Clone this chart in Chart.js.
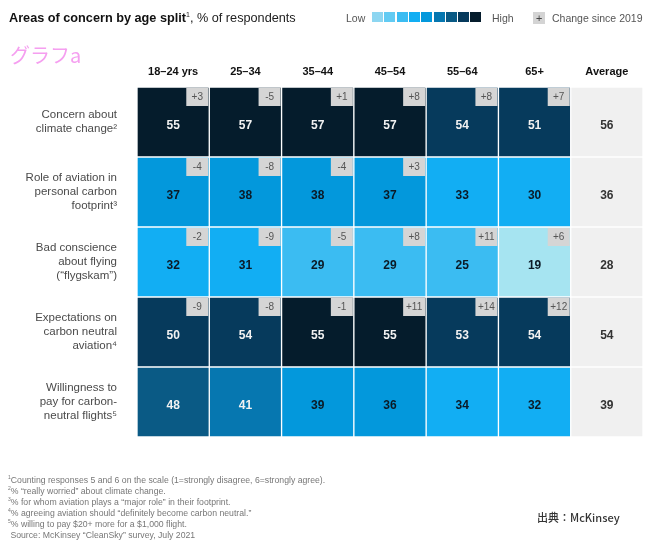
<!DOCTYPE html>
<html>
<head>
<meta charset="utf-8">
<script src="https://cdn.jsdelivr.net/npm/chart.js@4.4.1/dist/chart.umd.min.js"></script>
<style>
    body { margin: 0; background: #fff; font-family: "Liberation Sans", Arial, sans-serif; }
    #wrap { position: relative; width: 645px; height: 541px; overflow: hidden; }
    #heatmap { position: absolute; left: 0; top: 0; }
    .title { position: absolute; left: 9px; top: 11px; font-size: 12.7px; color: #222; white-space: nowrap; }
    .title b { color: #111; }
    .title sup { font-size: 7px; line-height: 0; }
    .legend { position: absolute; top: 12px; left: 346px; font-size: 10.5px; color: #555; white-space: nowrap; }
    .legend span, .legend i { position: absolute; top: 0; }
    .swatch { position: absolute; top: 2px; width: 11px; height: 10px; }
    .plusbox { position: absolute; left: 187px; top: 1px; width: 12px; height: 12px; background: #d4d4d4; color: #444; font-size: 11px; line-height: 12px; text-align: center; }
    .tag { position: absolute; left: 10px; top: 40px; font-family: "Noto Sans CJK JP", sans-serif; font-size: 20px; color: #f59ff0; }
    .notes { position: absolute; left: 8px; top: 475px; font-size: 8.7px; line-height: 11px; color: #777; white-space: nowrap; }
    .notes sup { font-size: 5px; line-height: 0; }
    .source { position: absolute; left: 537px; top: 509px; font-family: "Noto Sans CJK JP", sans-serif; font-size: 11px; color: #333; font-weight: 500; }
</style>
</head>
<body>
<div id="wrap">
    <canvas id="heatmap" width="645" height="541"></canvas>
    <div class="title"><b>Areas of concern by age split</b><sup>1</sup>, % of respondents</div>
    <div class="legend" id="legend"></div>
    <div class="tag">グラフa</div>
    <div class="notes">
        <sup>1</sup>Counting responses 5 and 6 on the scale (1=strongly disagree, 6=strongly agree).<br>
        <sup>2</sup>% “really worried” about climate change.<br>
        <sup>3</sup>% for whom aviation plays a “major role” in their footprint.<br>
        <sup>4</sup>% agreeing aviation should “definitely become carbon neutral.”<br>
        <sup>5</sup>% willing to pay $20+ more for a $1,000 flight.<br>
        &nbsp;Source: McKinsey “CleanSky” survey, July 2021
    </div>
    <div class="source">出典：McKinsey</div>
</div>
<script>
// Columns (age groups) and rows (areas of concern)
const ageGroups = ['18–24 yrs', '25–34', '35–44', '45–54', '55–64', '65+', 'Average'];
const concerns = [
    ['Concern about', 'climate change²'],
    ['Role of aviation in', 'personal carbon', 'footprint³'],
    ['Bad conscience', 'about flying', '(“flygskam”)'],
    ['Expectations on', 'carbon neutral', 'aviation⁴'],
    ['Willingness to', 'pay for carbon-', 'neutral flights⁵']
];

// % of respondents, one array per row (last value = average)
const climateChange = [55, 57, 57, 57, 54, 51, 56];
const aviationRole = [37, 38, 38, 37, 33, 30, 36];
const flygskam = [32, 31, 29, 29, 25, 19, 28];
const carbonNeutral = [50, 54, 55, 55, 53, 54, 54];
const willingToPay = [48, 41, 39, 36, 34, 32, 39];
const shares = [climateChange, aviationRole, flygskam, carbonNeutral, willingToPay];

// Change since 2019 (null = not shown)
const changes = [
    ['+3', '-5', '+1', '+8', '+8', '+7'],
    ['-4', '-8', '-4', '+3', null, null],
    ['-2', '-9', '-5', '+8', '+11', '+6'],
    ['-9', '-8', '-1', '+11', '+14', '+12'],
    [null, null, null, null, null, null]
];

// Low -> High colour scale
const scaleColors = ['#8dd6f1', '#62cbf3', '#3bbcf2', '#12aef3', '#0398dc', '#0677b0', '#0a5a85', '#063a5c', '#051c2c'];

function cellColor(v) {
    if (v >= 55) return '#051c2c';
    if (v >= 50) return '#063a5c';
    if (v >= 46) return '#0a5a85';
    if (v >= 41) return '#0677b0';
    if (v >= 35) return '#0398dc';
    if (v >= 30) return '#12aef3';
    if (v >= 20) return '#3bbcf2';
    return '#a6e4f1';
}

// Legend swatches
const legend = document.getElementById('legend');
legend.innerHTML = '<span style="left:0">Low</span>' +
    scaleColors.map((c, i) => `<i class="swatch" style="left:${26 + i * 12.3}px;background:${c}"></i>`).join('') +
    '<span style="left:146px">High</span><i class="plusbox">+</i><span style="left:206px">Change since 2019</span>';

// Build heatmap cells as floating bars: one per row/column
const cells = [];
shares.forEach((row, r) => {
    row.forEach((v, c) => {
        cells.push({ x: ageGroups[c], y: [r, r + 1], v: v, d: c < 6 ? changes[r][c] : null, avg: c === 6 });
    });
});

const cellLabels = {
    id: 'cellLabels',
    afterDatasetsDraw(chart) {
        const ctx = chart.ctx;
        const meta = chart.getDatasetMeta(0);
        ctx.save();
        meta.data.forEach((bar, i) => {
            const cell = cells[i];
            const p = bar.getProps(['x', 'y', 'base', 'width'], true);
            const top = Math.min(p.y, p.base);
            const bottom = Math.max(p.y, p.base);
            const right = p.x + p.width / 2;

            // value
            ctx.font = 'bold 12px "Liberation Sans", Arial, sans-serif';
            ctx.textAlign = 'center';
            ctx.textBaseline = 'middle';
            if (cell.avg) ctx.fillStyle = '#333';
            else ctx.fillStyle = cell.v >= 41 ? '#f2f2f2' : '#0b1a26';
            ctx.fillText(cell.v, p.x, (top + bottom) / 2 + 4);

            // change badge
            if (cell.d) {
                ctx.fillStyle = '#d5d5d5';
                ctx.fillRect(right - 23, top + 1, 22, 18);
                ctx.fillStyle = '#555';
                ctx.font = '10px "Liberation Sans", Arial, sans-serif';
                ctx.fillText(cell.d, right - 12, top + 10.5);
            }
        });
        ctx.restore();
    }
};

new Chart(document.getElementById('heatmap'), {
    type: 'bar',
    data: {
        labels: ageGroups,
        datasets: [{
            data: cells,
            backgroundColor: ctx => ctx.raw.avg ? '#f0f0f0' : cellColor(ctx.raw.v),
            borderColor: '#ffffff',
            borderWidth: 1,
            borderSkipped: false,
            barPercentage: 1,
            categoryPercentage: 1
        }]
    },
    options: {
        responsive: false,
        animation: false,
        layout: { padding: { left: 0, right: 2, top: 0, bottom: 104 } },
        plugins: { legend: { display: false }, tooltip: { enabled: false } },
        scales: {
            x: {
                position: 'top',
                grid: { display: false, drawTicks: false },
                border: { display: false },
                ticks: { padding: 8, color: '#111', font: { family: '"Liberation Sans", Arial, sans-serif', size: 11, weight: 'bold' } },
                afterFit: scale => { scale.height = 87; }
            },
            y: {
                min: 0,
                max: 5,
                reverse: true,
                grid: { display: false, drawTicks: false },
                border: { display: false },
                afterBuildTicks: scale => { scale.ticks = concerns.map((_, i) => ({ value: i + 0.5 })); },
                afterFit: scale => { scale.width = 137; },
                ticks: {
                    padding: 20,
                    color: '#4a4a4a',
                    font: { family: '"Liberation Sans", Arial, sans-serif', size: 11.5 },
                    callback: v => concerns[Math.floor(v)]
                }
            }
        }
    },
    plugins: [cellLabels]
});
</script>
</body>
</html>
